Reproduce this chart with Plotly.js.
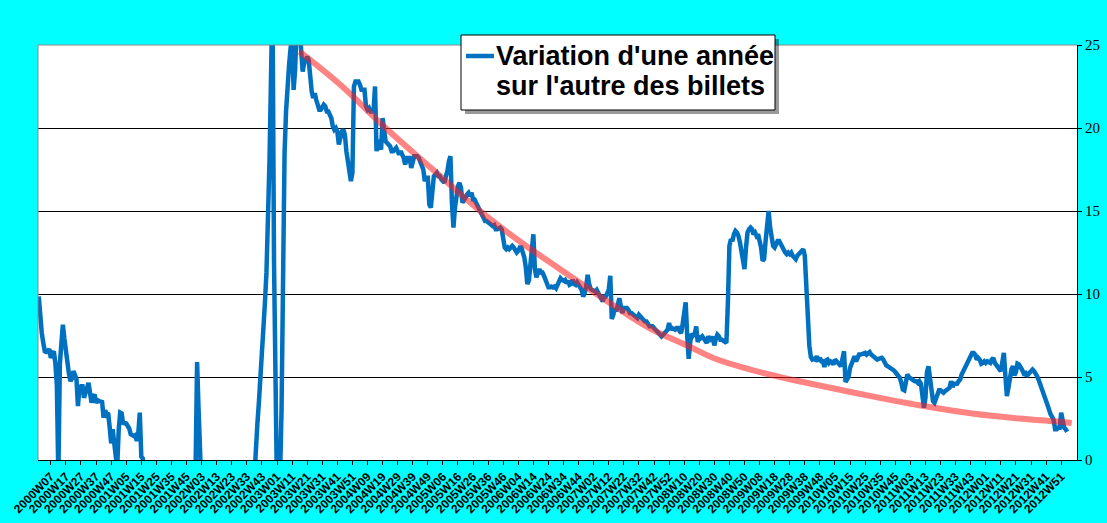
<!DOCTYPE html>
<html>
<head>
<meta charset="utf-8">
<script src="https://cdn.plot.ly/plotly-3.0.1.min.js"></script>
<style>
  html, body { margin: 0; padding: 0; background: #00FFFF; }
  #chart { width: 1107px; height: 523px; }
</style>
</head>
<body>
<div id="chart"></div>
<script>
// Weekly tick labels (every 10th week), first label sits on week index 8
const tickLabels = [
  "2000W07","2000W17","2000W27","2000W37","2000W47",
  "2001W05","2001W15","2001W25","2001W35","2001W45",
  "2002W03","2002W13","2002W23","2002W33","2002W43",
  "2003W01","2003W11","2003W21","2003W31","2003W41","2003W51",
  "2004W09","2004W19","2004W29","2004W39","2004W49",
  "2005W06","2005W16","2005W26","2005W36","2005W46",
  "2006W04","2006W14","2006W24","2006W34","2006W44",
  "2007W02","2007W12","2007W22","2007W32","2007W42","2007W52",
  "2008W10","2008W20","2008W30","2008W40","2008W50",
  "2009W08","2009W18","2009W28","2009W38","2009W48",
  "2010W05","2010W15","2010W25","2010W35","2010W45",
  "2011W03","2011W13","2011W23","2011W33","2011W43",
  "2012W01","2012W11","2012W21","2012W31","2012W41","2012W51"
];
const firstLabelWeek = 8;
const labelStep = 10;
const weekCount = 689;

// Year-over-year variation of banknotes, one value per week
const variation = [
  9.85,8.45,7.65,7.05,6.55,6.5,6.5,6.7,6.15,6.4,
  6.55,5.85,4.5,-1,5.8,7.0,8.15,7.3,6.45,5.9,
  5.2,4.75,4.9,5.35,5.1,4.9,3.25,4.4,4.45,4.45,
  3.75,4.2,4.35,4.65,4.0,3.45,3.8,3.95,3.45,3.6,
  3.55,3.55,3.5,2.55,3.0,2.75,2.85,2.0,1.0,1.85,
  0.9,0.65,-0.5,1.8,2.85,2.8,2.15,2.25,2.2,2.05,
  1.9,1.55,1.45,1.45,1.5,1.15,1.6,2.85,0.2,0.1,
  -2,-2,-2,-2,-2,-2,-2,-2,-2,-2,
  -2,-2,-2,-2,-2,-2,-2,-2,-2,-2,
  -2,-2,-2,-2,-2,-2,-2,-2,-2,-2,
  -2,-2,-2,-2,-0.5,5.9,3.0,-0.5,-2,-2,
  -2,-2,-2,-2,-2,-2,-2,-2,-2,-2,
  -2,-2,-2,-2,-2,-2,-2,-2,-2,-2,
  -2,-2,-2,-2,-2,-2,-2,-2,-2,-2,
  -2,-2,-2,-1,1.0,2.2,3.5,4.8,6.2,7.6,
  9.5,11.3,14,18,23,28,12,-2,-2,-2,
  -1,3,12,18.5,21,22.8,23.8,24.8,25.5,22.3,
  23.5,26,27,26,24.7,23.4,23.9,24.2,24.3,24.1,
  22.8,22.2,21.8,22.1,21.7,21.3,21.1,21.1,21.3,21.4,
  21.3,21.0,21.0,20.8,20.6,20.1,19.9,20.0,19.8,19.0,
  19.5,19.8,19.9,19.6,18.6,18.1,17.5,16.8,17.3,22.5,
  22.8,22.8,22.8,22.6,22.3,22.3,22.3,21.3,21.1,21.2,
  21.0,21.0,21.0,22.5,18.6,19.3,18.9,18.7,20.6,19.7,
  19.2,19.1,19.0,18.9,18.6,18.6,18.7,18.8,18.6,18.4,
  18.6,18.4,18.2,17.8,18.2,18.2,18.2,17.6,18.0,18.3,
  18.3,18.3,18.2,18.0,17.8,17.5,16.8,17.0,17.0,15.4,
  15.2,16.5,17.1,17.2,17.3,17.1,17.1,16.9,16.8,16.7,
  17.1,17.4,18.0,18.3,15.5,14.0,15.2,16.1,16.5,16.7,
  16.4,15.5,15.6,15.8,16.0,16.1,15.9,16.1,15.7,15.7,
  15.5,15.3,15.1,15.0,14.8,14.6,14.4,14.4,14.3,14.3,
  14.2,14.1,14.15,13.9,13.9,14.0,14.0,13.9,13.3,12.8,
  12.7,12.8,12.7,12.8,12.9,12.8,12.6,12.5,12.6,12.8,
  12.8,12.5,12.2,11.6,10.6,10.8,11.8,12.8,13.6,11.5,
  11.0,11.3,11.5,11.3,11.3,11.1,10.8,10.6,10.4,10.4,
  10.45,10.4,10.45,10.35,10.6,10.75,10.95,10.85,10.8,10.85,
  10.65,10.8,10.55,10.6,10.85,10.6,10.55,10.7,10.5,10.45,
  10.25,9.85,10.05,10.45,11.15,10.6,10.3,10.25,10.2,10.15,
  10.25,10.05,9.85,9.75,9.55,9.85,9.85,10.05,10.25,11.1,
  8.5,8.75,9.15,8.95,9.35,9.75,9.25,8.85,9.15,9.15,
  9.15,9.05,8.85,8.85,8.75,8.7,8.65,8.55,8.75,8.65,
  8.55,8.35,8.35,8.35,8.2,8.05,8.05,8.05,7.95,7.85,
  7.85,7.75,7.55,7.45,7.55,7.65,7.75,7.85,8.25,7.85,
  7.95,7.85,7.85,7.95,7.95,7.75,7.65,8.2,8.7,9.5,
  7.5,6.1,7.1,7.6,7.5,7.6,8.05,7.1,7.45,7.35,
  7.45,7.3,7.25,7.05,7.45,7.35,7.15,7.45,6.9,7.3,
  7.55,7.45,7.25,7.25,7.15,7.15,7.05,9.5,12.9,13.3,
  13.2,13.6,13.8,13.7,13.5,13.1,12.5,11.8,11.5,12.8,
  13.7,13.9,14.0,13.9,13.6,13.7,13.5,13.6,13.3,12.8,
  12.0,12.1,13.2,14.1,15.0,14.0,13.3,12.9,12.8,13.0,
  13.2,13.2,13.0,12.8,12.7,12.5,12.4,12.5,12.4,12.5,
  12.3,12.2,12.1,12.3,12.4,12.6,12.7,12.7,12.3,10.6,
  8.3,6.9,6.2,6.05,6.1,6.05,6.25,5.95,6.15,5.95,
  5.95,5.6,6.0,6.05,5.85,5.95,5.9,5.75,6.05,5.95,
  5.75,5.75,5.65,6.1,6.55,4.7,4.8,5.0,5.55,5.75,
  5.95,6.25,5.95,6.2,6.35,6.35,6.4,6.45,6.45,6.35,
  6.45,6.5,6.35,6.25,6.15,6.15,6.05,6.1,6.15,6.15,
  6.05,5.85,5.7,5.65,5.6,5.55,5.45,5.4,5.3,5.15,
  5.05,4.95,4.65,4.25,4.2,4.9,5.15,5.0,4.9,4.85,
  4.8,4.75,4.75,4.65,4.75,4.6,3.6,3.15,3.75,5.3,
  5.65,4.9,4.05,3.55,3.45,3.75,4.1,4.2,4.2,4.15,
  4.05,4.15,4.25,4.35,4.35,4.75,4.4,4.6,4.6,4.6,
  4.75,4.85,5.15,5.35,5.55,5.75,6.0,6.2,6.4,6.45,
  6.45,6.35,6.05,6.15,6.05,5.8,5.85,5.95,5.85,5.95,
  5.9,5.85,6.05,6.15,5.85,5.75,5.65,5.55,5.35,5.9,
  6.45,5.1,3.85,4.35,5.2,5.45,5.65,5.1,5.3,5.8,
  5.75,5.65,5.45,5.25,5.35,5.05,5.15,5.25,5.45,5.45,
  5.35,5.25,5.05,4.85,4.55,4.25,4.05,3.75,3.55,3.3,
  2.9,2.75,2.6,2.4,1.85,1.85,1.95,1.95,2.85,2.3,
  1.95,1.85,1.7
];

// Trend curve (at a few weeks)
const trendWeeks = [173,200,230,260,294,320,344,365,383,405,431,450,472,494,513,552,587,619,650,674,685];
const trendValues = [24.6,22.6,20.0,17.6,14.9,13.1,11.6,10.3,9.2,7.95,6.85,6.05,5.45,4.95,4.58,3.85,3.25,2.8,2.5,2.33,2.23];

const legendLines = ["Variation d'une année", "sur l'autre des billets"];

const weekIndex = variation.map((_, i) => i);
const tickVals = tickLabels.map((_, k) => firstLabelWeek + labelStep * k);

const W = 1107, H = 523;
const M = {l: 38, r: 30, t: 45, b: 63};
const pw = W - M.l - M.r, ph = H - M.t - M.b;
const px = x => (x - M.l) / pw;
const py = y => (H - M.b - y) / ph;

const BLUE = '#0070C0';
const sans = 'Liberation Sans, Arial, sans-serif';

const traces = [
  {
    x: weekIndex, y: variation, type: 'scatter', mode: 'lines',
    name: legendLines.join(' '),
    line: {color: BLUE, width: 4.5},
    hoverinfo: 'skip'
  },
  {
    x: trendWeeks, y: trendValues, type: 'scatter', mode: 'lines',
    line: {color: 'rgba(255,30,30,0.55)', width: 6, shape: 'spline', smoothing: 1},
    hoverinfo: 'skip'
  }
];

const layout = {
  width: W, height: H,
  margin: M,
  paper_bgcolor: '#00FFFF',
  plot_bgcolor: '#FFFFFF',
  showlegend: false,
  xaxis: {
    range: [-0.5, weekCount - 0.5],
    tickmode: 'array', tickvals: tickVals, ticktext: tickLabels,
    tickangle: -45,
    tickfont: {family: sans, size: 12, color: '#000000', weight: 'bold'},
    ticks: 'outside', ticklen: 4, tickcolor: '#000000', tickwidth: 1,
    showgrid: false, zeroline: false,
    showline: true, linecolor: '#000000', linewidth: 1
  },
  yaxis: {
    range: [0, 25], side: 'right', dtick: 5, tick0: 0,
    tickfont: {family: 'Liberation Serif, Times New Roman, serif', size: 15, color: '#000000'},
    ticks: 'outside', ticklen: 4, tickcolor: '#000000', tickwidth: 1,
    showgrid: true, gridcolor: '#000000', gridwidth: 1,
    zeroline: false,
    showline: true, linecolor: '#000000', linewidth: 1
  },
  shapes: [
    // plot area border (left, top)
    {type: 'line', xref: 'paper', yref: 'paper', x0: 0, x1: 0, y0: 0, y1: 1,
     line: {color: '#888888', width: 1}, layer: 'above'},
    {type: 'line', xref: 'paper', yref: 'paper', x0: 0, x1: 1, y0: 1, y1: 1,
     line: {color: '#888888', width: 1}, layer: 'above'},
    // legend shadow
    {type: 'rect', xref: 'paper', yref: 'paper',
     x0: px(465), x1: px(779), y0: py(114), y1: py(39),
     fillcolor: 'rgba(0,0,0,0.4)', line: {width: 0}, layer: 'above'},
    // legend box
    {type: 'rect', xref: 'paper', yref: 'paper',
     x0: px(461), x1: px(775), y0: py(110), y1: py(35),
     fillcolor: '#FFFFFF', line: {color: '#000000', width: 1}, layer: 'above'},
    // legend line sample
    {type: 'line', xref: 'paper', yref: 'paper',
     x0: px(466), x1: px(494), y0: py(56), y1: py(56),
     line: {color: BLUE, width: 4.5}, layer: 'above'}
  ],
  annotations: legendLines.map((t, k) => ({
    text: t, xref: 'paper', yref: 'paper',
    x: px(494), y: py(56 + 30 * k), xanchor: 'left', yanchor: 'middle',
    showarrow: false, align: 'left',
    font: {family: sans, size: 27, color: '#000000', weight: 'bold'}
  }))
};

Plotly.newPlot('chart', traces, layout, {displayModeBar: false, staticPlot: true});
</script>
</body>
</html>
